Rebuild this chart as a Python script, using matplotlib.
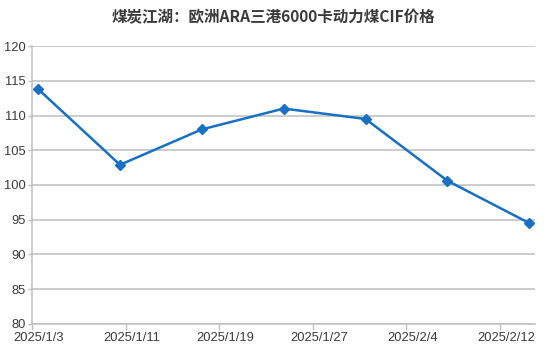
import numpy as np
import pandas as pd
import matplotlib
matplotlib.use('Agg')
import matplotlib.pyplot as plt
import matplotlib.dates as mdates

plt.rcParams['font.family'] = ['Liberation Sans', 'Noto Sans CJK SC', 'DejaVu Sans']

title = '煤炭江湖：欧洲ARA三港6000卡动力煤CIF价格'
dates = ['2025-01-03', '2025-01-10', '2025-01-17', '2025-01-24',
         '2025-01-31', '2025-02-07', '2025-02-14']
prices = [113.8, 102.9, 108.0, 111.0, 109.5, 100.6, 94.5]
tick_dates = ['2025-01-03', '2025-01-11', '2025-01-19', '2025-01-27',
              '2025-02-04', '2025-02-12']
tick_labels = ['2025/1/3', '2025/1/11', '2025/1/19', '2025/1/27',
               '2025/2/4', '2025/2/12']

LINE = '#1770c2'
GRID = '#bfbfbf'
TXT = '#3a3a3a'

fig = plt.figure(figsize=(5.46, 3.56), dpi=100)
ax = fig.add_axes([0.0592, 0.0907, 0.9208, 0.7798])

# excel date axis: each point sits in the middle of its day slot
x = pd.to_datetime(dates) + pd.Timedelta(hours=12)
ax.plot(x, prices, color=LINE, lw=1.8, marker='D', markersize=5.5,
        markerfacecolor=LINE, markeredgecolor=LINE, zorder=3)

ax.set_ylim(80, 120)
ax.set_yticks(np.arange(80, 121, 5))
ax.set_xlim(pd.Timestamp('2025-01-03'), pd.Timestamp('2025-02-15'))

td = pd.to_datetime(tick_dates)
ax.set_xticks(td)
ax.set_xticklabels([])
ax.set_xticks(td + pd.Timedelta(hours=12), minor=True)
ax.set_xticklabels(tick_labels, minor=True)
ax.tick_params(axis='x', which='major', length=4, color=GRID, width=1)
ax.tick_params(axis='x', which='minor', length=0, pad=6, labelsize=9.3,
               labelcolor=TXT)
ax.tick_params(axis='y', length=3, color=GRID, width=1, labelsize=9.3,
               labelcolor=TXT, pad=2)

ax.grid(axis='y', color=GRID, lw=1.1)
ax.set_axisbelow(True)
for s in ['top', 'right']:
    ax.spines[s].set_visible(False)
for s in ['left', 'bottom']:
    ax.spines[s].set_color(GRID)
    ax.spines[s].set_linewidth(1.1)

fig.text(0.5, 0.952, title, ha='center', va='center', fontsize=11.2,
         fontweight='bold', color=TXT,
         family=['Noto Sans CJK SC', 'DejaVu Sans'])

plt.savefig('out.png', dpi=100)
